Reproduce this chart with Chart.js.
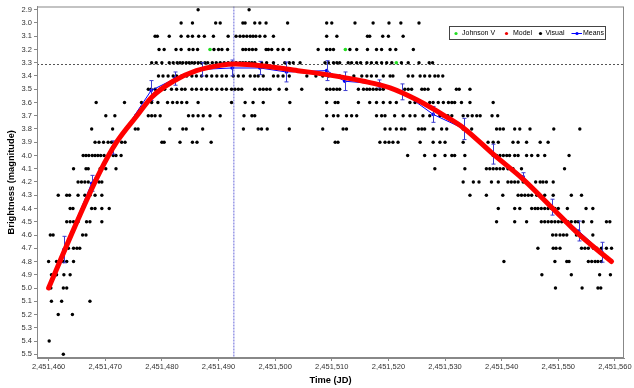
<!DOCTYPE html>
<html>
<head>
<meta charset="utf-8">
<script src="https://cdn.jsdelivr.net/npm/chart.js@4"></script>
<style>
  html,body{margin:0;padding:0;background:#fff;}
  #wrap{width:634px;height:388px;}
</style>
</head>
<body>
<div id="wrap"><canvas id="lc"></canvas></div>
<script>
/* light curve data: days counted from jd0 */
const jd0 = 2451460;

const xTicks = [2451460, 2451470, 2451480, 2451490, 2451500, 2451510, 2451520, 2451530, 2451540, 2451550, 2451560];
const yTicks = [2.9, 3.0, 3.1, 3.2, 3.3, 3.4, 3.5, 3.6, 3.7, 3.8, 3.9, 4.0, 4.1, 4.2, 4.3, 4.4, 4.5, 4.6, 4.7, 4.8, 4.9, 5.0, 5.1, 5.2, 5.3, 5.4, 5.5];

/* visual estimates, one row per magnitude */
const visualMags = [2.9, 3.0, 3.1, 3.2, 3.3, 3.4, 3.5, 3.6, 3.7, 3.8, 3.9, 4.0, 4.1, 4.2, 4.3, 4.4, 4.5, 4.6, 4.7, 4.8, 4.9, 5.0, 5.1, 5.2, 5.4, 5.5];
const visualDays = [
  [26.4, 35.4],
  [23.4, 25.4, 29.5, 30.3, 34.3, 34.7, 36.4, 37.3, 38.4, 42.2, 49.1, 50.0, 54.1, 57.3, 60.1, 62.2, 65.4],
  [18.8, 19.2, 21.3, 23.4, 24.6, 25.4, 26.5, 27.5, 29.1, 31.7, 33.1, 33.8, 34.4, 35.0, 35.6, 36.1, 36.6, 37.3, 38.2, 39.7, 49.1, 50.9, 56.3, 56.7, 59.0, 60.0, 62.6],
  [19.5, 20.4, 22.5, 23.4, 24.8, 25.5, 26.3, 29.2, 30.0, 30.6, 31.6, 34.3, 34.8, 35.4, 36.0, 36.6, 38.4, 38.8, 39.4, 40.5, 41.4, 42.5, 47.6, 49.1, 49.7, 50.3, 53.2, 54.4, 56.3, 57.9, 58.8, 60.3, 61.3, 64.4],
  [18.2, 19.0, 20.0, 21.3, 22.0, 22.7, 23.2, 23.7, 24.3, 24.8, 25.3, 25.8, 26.4, 26.9, 27.6, 28.1, 28.9, 29.6, 30.3, 31.0, 31.7, 32.4, 33.1, 33.8, 34.3, 34.8, 35.4, 35.9, 36.4, 37.6, 38.5, 39.7, 41.7, 42.5, 43.2, 44.4, 48.8, 49.4, 50.3, 50.9, 51.4, 52.9, 53.5, 54.4, 55.1, 56.2, 57.0, 57.9, 58.8, 59.7, 60.6, 62.3, 63.5, 65.4, 67.2, 67.8],
  [19.4, 20.2, 21.1, 22.0, 22.6, 23.5, 24.4, 25.3, 26.1, 27.0, 27.9, 28.8, 29.7, 30.6, 31.4, 32.6, 33.5, 34.4, 35.6, 36.4, 37.0, 37.9, 39.7, 40.5, 41.4, 42.5, 45.6, 47.2, 48.4, 49.4, 51.4, 53.9, 55.3, 56.2, 57.0, 57.9, 59.1, 60.3, 60.8, 63.5, 64.3, 65.6, 66.4, 67.3, 68.2, 68.8, 69.6],
  [17.6, 18.1, 18.8, 19.7, 20.5, 21.7, 22.6, 23.5, 24.1, 25.3, 26.1, 27.0, 27.9, 28.8, 29.7, 30.6, 31.4, 32.3, 32.9, 33.5, 34.1, 36.4, 37.3, 37.9, 38.5, 39.1, 40.7, 42.0, 44.7, 49.1, 49.7, 50.3, 50.9, 51.4, 54.7, 55.6, 56.2, 56.7, 57.3, 57.9, 58.5, 59.1, 62.9, 63.5, 64.1, 65.9, 66.4, 67.0, 69.1, 72.0, 72.5, 74.4],
  [8.4, 13.4, 16.4, 17.4, 18.2, 19.3, 21.0, 21.9, 22.7, 23.5, 24.4, 26.4, 32.3, 34.7, 36.1, 37.9, 42.6, 49.1, 50.6, 51.1, 54.7, 56.7, 57.9, 59.1, 60.3, 61.4, 63.8, 64.7, 67.3, 67.9, 68.8, 69.7, 70.6, 71.2, 71.7, 72.9, 74.4, 78.5],
  [10.1, 11.7, 15.4, 17.6, 18.2, 18.8, 19.7, 24.7, 25.5, 26.4, 27.3, 28.5, 30.3, 34.5, 35.9, 36.4, 49.1, 50.3, 51.1, 52.6, 53.5, 54.4, 57.9, 58.8, 59.4, 61.1, 62.6, 63.8, 64.7, 66.1, 67.3, 69.1, 69.6, 70.5, 71.2, 73.2, 74.0, 74.8, 75.6, 76.2, 78.3, 79.3],
  [7.6, 11.3, 13.7, 15.3, 15.8, 21.4, 23.7, 24.3, 27.2, 34.4, 37.0, 37.6, 38.6, 42.5, 48.4, 52.0, 52.6, 59.4, 60.3, 61.4, 62.3, 62.9, 65.3, 65.9, 66.4, 67.9, 69.4, 70.3, 73.2, 74.7, 79.1, 79.7, 80.3, 82.3, 83.2, 85.0, 89.2, 93.8],
  [8.2, 8.9, 9.7, 10.5, 11.1, 11.9, 12.9, 13.5, 20.0, 20.4, 23.2, 25.4, 26.2, 28.7, 50.6, 51.1, 58.5, 59.4, 60.1, 60.8, 61.7, 65.6, 67.9, 69.1, 70.0, 73.2, 77.6, 78.5, 79.4, 82.0, 82.9, 84.4, 86.8, 88.2],
  [6.1, 6.6, 7.1, 7.7, 8.2, 8.7, 9.2, 9.8, 11.4, 11.9, 12.8, 63.4, 66.4, 68.2, 70.0, 71.2, 71.7, 73.5, 78.5, 79.1, 79.7, 80.3, 80.9, 81.4, 82.3, 82.9, 84.4, 85.3, 86.4, 87.6, 91.9],
  [4.4, 6.6, 7.0, 9.1, 10.1, 11.9, 68.2, 73.5, 77.3, 77.9, 78.5, 79.1, 79.7, 80.3, 81.1, 82.0, 83.5, 91.1],
  [5.2, 5.8, 6.4, 7.0, 8.9, 9.4, 73.2, 75.0, 76.0, 78.2, 79.4, 81.1, 81.7, 82.3, 82.9, 83.8, 86.0, 86.8, 87.3, 87.9, 89.1],
  [1.7, 3.2, 3.7, 5.2, 6.4, 7.3, 8.2, 9.4, 74.4, 77.3, 80.2, 82.9, 83.5, 84.1, 84.7, 85.3, 86.2, 86.8, 87.6, 89.1, 92.3, 94.1],
  [3.8, 4.3, 7.6, 8.2, 9.4, 10.7, 79.4, 82.3, 83.2, 85.3, 85.9, 86.4, 87.0, 87.6, 88.2, 88.8, 89.4, 90.0, 91.6, 94.9, 96.1],
  [3.2, 3.8, 4.4, 5.2, 6.7, 7.3, 9.4, 79.1, 82.3, 84.4, 87.0, 87.6, 88.2, 88.8, 89.4, 90.0, 90.6, 91.2, 91.7, 92.3, 93.0, 93.5, 94.4, 95.9, 98.5, 99.1],
  [0.3, 0.8, 6.0, 6.6, 89.0, 89.6, 90.3, 90.9, 91.5, 93.2, 93.8, 96.1],
  [3.5, 4.4, 5.0, 5.5, 86.4, 89.1, 89.6, 90.3, 94.1, 94.7, 95.3, 96.2, 96.8, 97.6, 98.5, 99.4],
  [0.0, 1.4, 2.6, 3.2, 4.4, 80.4, 89.4, 91.5, 91.9, 95.3, 95.9, 96.5, 97.0, 97.6],
  [0.5, 1.4, 2.7, 3.8, 87.1, 92.3, 97.3, 99.2],
  [0.4, 2.6, 3.2, 89.5, 94.2, 97.0, 97.5],
  [0.5, 2.3, 7.3],
  [1.7, 4.2],
  [0.1],
  [2.6]
];

/* Johnson V */
const johnsonDays = [28.5, 52.4, 61.4];
const johnsonMags = [3.2, 3.2, 3.3];

/* binned means with errors */
const meanDays = [2.7, 7.6, 11.4, 18.1, 22.3, 27.1, 32.4, 37.3, 42.0, 49.1, 52.3, 58.4, 62.4, 67.9, 73.4, 78.5, 83.8, 88.8, 93.6, 97.7];
const meanMags = [4.71, 4.21, 3.94, 3.51, 3.42, 3.35, 3.34, 3.34, 3.37, 3.36, 3.44, 3.46, 3.52, 3.69, 3.80, 3.99, 4.16, 4.39, 4.57, 4.73];
const meanErrs = [0.10, 0.06, 0.05, 0.075, 0.05, 0.05, 0.06, 0.05, 0.075, 0.075, 0.07, 0.03, 0.06, 0.06, 0.08, 0.075, 0.03, 0.06, 0.075, 0.075];

/* model fit */
const modelDays = [0, 4.5, 9.1, 12.0, 15.6, 18.2, 22.0, 26.1, 30.3, 33.0, 38.0, 44.0, 49.1, 55.6, 60.3, 65.0, 70.3, 73.2, 78.5, 83.8, 88.8, 93.5, 99.4];
const modelMags = [5.0, 4.55, 4.12, 3.90, 3.70, 3.56, 3.44, 3.36, 3.32, 3.31, 3.325, 3.36, 3.39, 3.44, 3.49, 3.58, 3.71, 3.79, 3.99, 4.18, 4.39, 4.59, 4.80];

/* time of maximum and max magnitude */
const maxDay = 32.7;
const maxMag = 3.31;

const FONT = "'Liberation Sans', Arial, sans-serif";
Chart.defaults.font.family = FONT;

/* build points */
const visualPts = [];
visualMags.forEach((m, i) => {
  visualDays[i].forEach(d => visualPts.push({x: jd0 + d, y: m}));
});
const johnsonPts = johnsonDays.map((d, i) => ({x: jd0 + d, y: johnsonMags[i]}));
const meanPts = meanDays.map((d, i) => ({x: jd0 + d, y: meanMags[i]}));
const modelPts = modelDays.map((d, i) => ({x: jd0 + d, y: modelMags[i]}));

/* dotted max lines, frame, error bars, legend */
const extras = {
  id: 'extras',
  beforeDatasetsDraw(chart){
    const {ctx, chartArea: a, scales: {x, y}} = chart;
    ctx.save();
    ctx.lineWidth = 1;
    ctx.strokeStyle = '#555';
    ctx.setLineDash([2, 2]);
    const yy = Math.round(y.getPixelForValue(maxMag)) + 0.5;
    ctx.beginPath(); ctx.moveTo(a.left, yy); ctx.lineTo(a.right, yy); ctx.stroke();
    ctx.strokeStyle = '#9a9ae6';
    ctx.lineWidth = 1.5;
    ctx.setLineDash([2, 1]);
    const xx = x.getPixelForValue(jd0 + maxDay);
    ctx.beginPath(); ctx.moveTo(xx, a.top); ctx.lineTo(xx, a.bottom); ctx.stroke();
    ctx.restore();
  },
  afterDatasetDraw(chart, args){
    if(args.index !== 1) return;
    const {ctx, scales: {x, y}} = chart;
    ctx.save();
    ctx.strokeStyle = '#3c3cd0';
    ctx.lineWidth = 1;
    meanDays.forEach((d, i) => {
      const px = Math.round(x.getPixelForValue(jd0 + d)) + 0.5;
      const y1 = y.getPixelForValue(meanMags[i] - meanErrs[i]);
      const y2 = y.getPixelForValue(meanMags[i] + meanErrs[i]);
      ctx.beginPath();
      ctx.moveTo(px, y1); ctx.lineTo(px, y2);
      ctx.moveTo(px - 2, y1); ctx.lineTo(px + 2, y1);
      ctx.moveTo(px - 2, y2); ctx.lineTo(px + 2, y2);
      ctx.stroke();
    });
    ctx.restore();
  },
  afterDraw(chart){
    const {ctx, chartArea: a} = chart;
    ctx.save();
    ctx.strokeStyle = '#888';
    ctx.lineWidth = 1;
    ctx.strokeRect(a.left + 0.5, a.top + 0.5, a.right - a.left - 1, a.bottom - a.top - 1);

    /* legend box */
    const bx = 449.5, by = 26.5, bw = 156, bh = 13;
    ctx.fillStyle = '#fff';
    ctx.fillRect(bx, by, bw, bh);
    ctx.strokeStyle = '#444';
    ctx.strokeRect(bx, by, bw, bh);
    ctx.font = '7px ' + FONT;
    ctx.textBaseline = 'middle';
    ctx.fillStyle = '#000';
    const cy = by + bh / 2 + 0.5;
    const dot = (px, c) => { ctx.fillStyle = c; ctx.beginPath(); ctx.arc(px, cy, 1.6, 0, Math.PI * 2); ctx.fill(); };
    dot(456, '#22dd22');
    ctx.fillStyle = '#000'; ctx.fillText('Johnson V', 462, cy);
    dot(506.5, '#ee0000');
    ctx.fillStyle = '#000'; ctx.fillText('Model', 513, cy);
    dot(540.5, '#000');
    ctx.fillStyle = '#000'; ctx.fillText('Visual', 545.5, cy);
    ctx.strokeStyle = '#0000ff';
    ctx.beginPath(); ctx.moveTo(571.5, cy); ctx.lineTo(582, cy); ctx.stroke();
    dot(577, '#0000ff');
    ctx.fillStyle = '#000'; ctx.fillText('Means', 583, cy);
    ctx.restore();
  }
};

new Chart(document.getElementById('lc'), {
  type: 'scatter',
  data: {
    datasets: [
      {
        label: 'Model', data: modelPts, showLine: true, order: 0,
        borderColor: '#ff0000', borderWidth: 5, pointRadius: 0,
        tension: 0.4, cubicInterpolationMode: 'monotone', borderCapStyle: 'round'
      },
      {
        label: 'Means', data: meanPts, showLine: true, order: 1,
        borderColor: '#0000ff', borderWidth: 1, tension: 0,
        pointRadius: 1.8, pointBackgroundColor: '#0000ff', pointBorderWidth: 0
      },
      {
        label: 'Johnson V', data: johnsonPts, order: 2,
        pointRadius: 1.8, pointBackgroundColor: '#22dd22', pointBorderWidth: 0
      },
      {
        label: 'Visual', data: visualPts, order: 3,
        pointRadius: 1.7, pointBackgroundColor: '#000', pointBorderWidth: 0
      }
    ]
  },
  options: {
    responsive: true,
    maintainAspectRatio: false,
    animation: false,
    layout: {padding: {top: 6, right: 10, left: 0, bottom: 0}},
    plugins: {legend: {display: false}, tooltip: {enabled: false}},
    scales: {
      x: {
        type: 'linear',
        min: jd0 - 2.05,
        max: jd0 + 101.6,
        afterBuildTicks: s => { s.ticks = xTicks.map(v => ({value: v})); },
        afterFit: s => { s.height = 30; },
        ticks: {
          callback: v => v.toLocaleString('en-US'),
          font: {size: 7.5}, color: '#333', padding: 1,
          maxRotation: 0, autoSkip: false
        },
        grid: {drawOnChartArea: false, tickLength: 3, color: '#888'},
        border: {color: '#888'},
        title: {
          display: true, text: 'Time (JD)', color: '#000',
          font: {size: 9.3, weight: 'bold'}, padding: {top: 0, bottom: 2}
        }
      },
      y: {
        type: 'linear',
        reverse: true,
        min: 2.876,
        max: 5.528,
        afterBuildTicks: s => { s.ticks = yTicks.map(v => ({value: v})); },
        afterFit: s => { s.width = 37; },
        ticks: {
          callback: v => v.toFixed(1),
          font: {size: 7.5}, color: '#333', padding: 2, autoSkip: false
        },
        grid: {drawOnChartArea: false, tickLength: 3, color: '#888'},
        border: {color: '#888'},
        title: {
          display: true, text: 'Brightness (magnitude)', color: '#000',
          font: {size: 9.3, weight: 'bold'}, padding: {top: 6, bottom: 0}
        }
      }
    }
  },
  plugins: [extras]
});
</script>
</body>
</html>
